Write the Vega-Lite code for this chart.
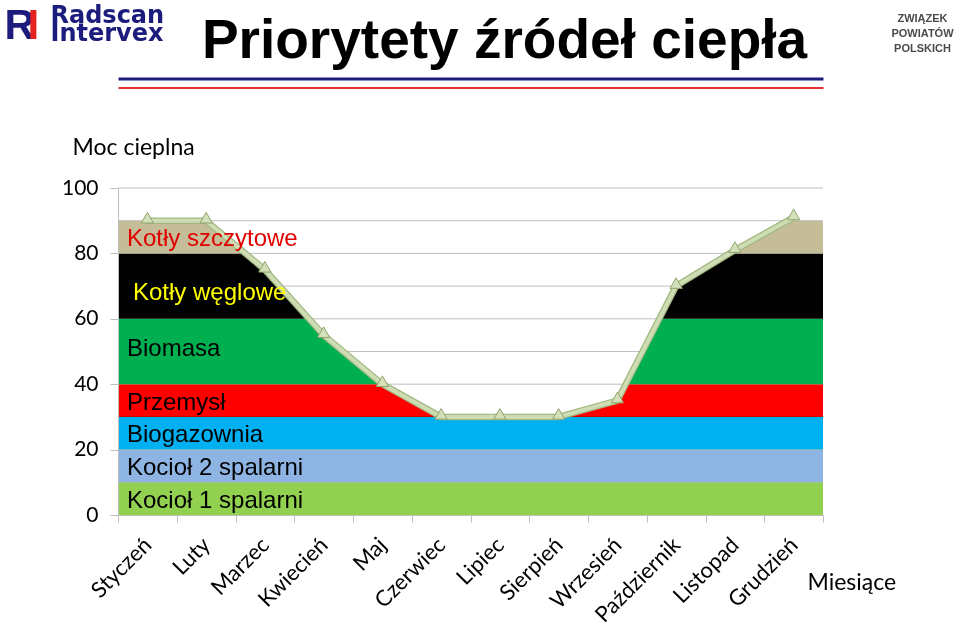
{
  "$schema": "https://vega.github.io/schema/vega-lite/v6.json",
  "autosize": "none",
  "width": 705,
  "height": 327,
  "padding": {"left": 118, "top": 188, "right": 137, "bottom": 112},
  "background": "white",
  "config": {"view": {"stroke": null}, "font": "Lato"},
  "title": {
    "text": "Priorytety źródeł ciepła",
    "font": "Liberation Sans",
    "fontSize": 55,
    "fontWeight": "bold",
    "color": "#000000",
    "anchor": "middle",
    "frame": "group",
    "dx": 34,
    "dy": 136,
    "offset": 69
  },
  "resolve": {"axis": {"x": "independent"}},
  "datasets": {
    "zrodla": [
      {"source": "Kocioł 1 spalarni", "priorytet": 1, "moc": 10},
      {"source": "Kocioł 2 spalarni", "priorytet": 2, "moc": 10},
      {"source": "Biogazownia", "priorytet": 3, "moc": 10},
      {"source": "Przemysł", "priorytet": 4, "moc": 10},
      {"source": "Biomasa", "priorytet": 5, "moc": 20},
      {"source": "Kotły węglowe", "priorytet": 6, "moc": 20},
      {"source": "Kotły szczytowe", "priorytet": 7, "moc": 10}
    ],
    "zapotrzebowanie": [
      {"miesiac": "Styczeń", "moc": 90},
      {"miesiac": "Luty", "moc": 90},
      {"miesiac": "Marzec", "moc": 75},
      {"miesiac": "Kwiecień", "moc": 55},
      {"miesiac": "Maj", "moc": 40},
      {"miesiac": "Czerwiec", "moc": 30},
      {"miesiac": "Lipiec", "moc": 30},
      {"miesiac": "Sierpień", "moc": 30},
      {"miesiac": "Wrzesień", "moc": 35},
      {"miesiac": "Październik", "moc": 70},
      {"miesiac": "Listopad", "moc": 81},
      {"miesiac": "Grudzień", "moc": 91}
    ],
    "siatka": [
      {"v": 10}, {"v": 20}, {"v": 30}, {"v": 40}, {"v": 50},
      {"v": 60}, {"v": 70}, {"v": 80}, {"v": 90}, {"v": 100}
    ]
  },
  "layer": [
    {
      "data": {"name": "zrodla"},
      "transform": [
        {"stack": "moc", "groupby": [], "sort": [{"field": "priorytet", "order": "ascending"}], "as": ["od", "do"]}
      ],
      "mark": {"type": "rect"},
      "encoding": {
        "y": {
          "field": "od",
          "type": "quantitative",
          "scale": {"domain": [0, 100], "nice": false},
          "axis": {
            "title": "Moc cieplna",
            "values": [0, 10, 20, 30, 40, 50, 60, 70, 80, 90, 100],
            "labelOverlap": false,
            "grid": false,
            "zindex": 1,
            "domainColor": "#BFBFBF",
            "tickColor": "#BFBFBF",
            "tickSize": 8,
            "labelPadding": 12,
            "labelFont": "Lato",
            "labelFontSize": 21,
            "labelColor": "#000000",
            "titleAngle": 0,
            "titleAlign": "left",
            "titleBaseline": "alphabetic",
            "titleX": -46,
            "titleY": -34,
            "titleFont": "Lato",
            "titleFontSize": 23,
            "titleFontWeight": "normal",
            "titleColor": "#000000"
          }
        },
        "y2": {"field": "do"},
        "color": {
          "field": "source",
          "type": "nominal",
          "scale": {
            "domain": ["Kocioł 1 spalarni", "Kocioł 2 spalarni", "Biogazownia", "Przemysł", "Biomasa", "Kotły węglowe", "Kotły szczytowe"],
            "range": ["#92D050", "#8DB4E2", "#00B0F0", "#FF0000", "#00B050", "#000000", "#C4BD97"]
          },
          "legend": null
        }
      }
    },
    {
      "data": {"name": "zapotrzebowanie"},
      "mark": {"type": "area", "fill": "white", "orient": "vertical"},
      "encoding": {
        "x": {
          "field": "miesiac",
          "type": "ordinal",
          "scale": {
            "type": "band",
            "paddingInner": 0,
            "paddingOuter": 0,
            "domain": ["Styczeń", "Luty", "Marzec", "Kwiecień", "Maj", "Czerwiec", "Lipiec", "Sierpień", "Wrzesień", "Październik", "Listopad", "Grudzień"]
          },
          "axis": {
            "orient": "bottom",
            "title": "Miesiące",
            "tickBand": "extent",
            "labelAngle": -45,
            "labelAlign": "right",
            "labelBaseline": "middle",
            "labelPadding": 19,
            "labelOverlap": false,
            "tickSize": 7,
            "domainColor": "#BFBFBF",
            "tickColor": "#BFBFBF",
            "labelFont": "Lato",
            "labelFontSize": 22,
            "labelColor": "#000000",
            "zindex": 1,
            "grid": false,
            "titleX": 689,
            "titleY": 74,
            "titleAlign": "left",
            "titleBaseline": "alphabetic",
            "titleFont": "Lato",
            "titleFontSize": 23,
            "titleFontWeight": "normal",
            "titleColor": "#000000"
          }
        },
        "y": {"field": "moc", "type": "quantitative"},
        "y2": {"datum": 100}
      }
    },
    {
      "data": {"name": "siatka"},
      "mark": {"type": "rule", "color": "#BFBFBF", "strokeWidth": 1, "blend": "darken"},
      "encoding": {"y": {"field": "v", "type": "quantitative"}}
    },
    {
      "data": {"name": "zapotrzebowanie"},
      "mark": {"type": "line", "color": "#A3B882", "strokeWidth": 6.5, "strokeJoin": "round"},
      "encoding": {
        "x": {
          "field": "miesiac",
          "type": "ordinal",
          "axis": {
            "orient": "top",
            "offset": 109.5,
            "labels": false,
            "ticks": false,
            "grid": false,
            "domain": true,
            "domainColor": "#1C1C7C",
            "domainWidth": 3,
            "title": ["Radscan", "Intervex"],
            "titleX": -68,
            "titleY": -56.5,
            "titleAngle": 0,
            "titleAlign": "left",
            "titleBaseline": "alphabetic",
            "titleLineHeight": 18.5,
            "titleFont": "DejaVu Sans",
            "titleFontSize": 24,
            "titleFontWeight": "bold",
            "titleColor": "#1C1C7C"
          }
        },
        "y": {"field": "moc", "type": "quantitative"}
      }
    },
    {
      "data": {"name": "zapotrzebowanie"},
      "mark": {"type": "line", "color": "#CFDDB5", "strokeWidth": 4, "strokeJoin": "round"},
      "encoding": {
        "x": {
          "field": "miesiac",
          "type": "ordinal",
          "axis": {
            "orient": "top",
            "offset": 100.5,
            "labels": false,
            "ticks": false,
            "grid": false,
            "domain": true,
            "domainColor": "#E8322F",
            "domainWidth": 2,
            "title": "R",
            "titleX": -114,
            "titleY": -49.5,
            "titleAngle": 0,
            "titleAlign": "left",
            "titleBaseline": "alphabetic",
            "titleFont": "Liberation Sans",
            "titleFontSize": 42,
            "titleFontWeight": "bold",
            "titleColor": "#1C1C7C"
          }
        },
        "y": {"field": "moc", "type": "quantitative"}
      }
    },
    {
      "data": {"name": "zapotrzebowanie"},
      "mark": {"type": "point", "shape": "triangle-up", "filled": true, "fill": "#D3E0BA", "stroke": "#90A46C", "strokeWidth": 1, "size": 150, "opacity": 1, "yOffset": -3},
      "encoding": {
        "x": {
          "field": "miesiac",
          "type": "ordinal",
          "axis": {
            "orient": "top",
            "offset": 100,
            "labels": false,
            "ticks": false,
            "grid": false,
            "domain": false,
            "title": "I",
            "titleX": -91,
            "titleY": -50,
            "titleAngle": 0,
            "titleAlign": "left",
            "titleBaseline": "alphabetic",
            "titleFont": "Liberation Sans",
            "titleFontSize": 42,
            "titleFontWeight": "bold",
            "titleColor": "#E52421"
          }
        },
        "y": {"field": "moc", "type": "quantitative"}
      }
    },
    {
      "data": {"name": "zrodla"},
      "transform": [
        {"stack": "moc", "groupby": [], "sort": [{"field": "priorytet", "order": "ascending"}], "as": ["od", "do"]},
        {"calculate": "(datum.od + datum.do) / 2", "as": "srodek"}
      ],
      "mark": {
        "type": "text",
        "align": "left",
        "baseline": "middle",
        "dx": {"expr": "datum.source === 'Kotły węglowe' ? 15 : 9"},
        "dy": {"expr": "datum.source === 'Kotły węglowe' ? 7 : (datum.source === 'Biomasa' ? -3 : 2)"},
        "font": "Liberation Sans",
        "fontSize": 24
      },
      "encoding": {
        "x": {
          "datum": "Styczeń",
          "type": "ordinal",
          "bandPosition": 0,
          "axis": {
            "orient": "top",
            "offset": 100,
            "labels": false,
            "ticks": false,
            "grid": false,
            "domain": false,
            "title": ["ZWIĄZEK", "POWIATÓW", "POLSKICH"],
            "titleX": 804,
            "titleY": -67,
            "titleAngle": 0,
            "titleAlign": "center",
            "titleBaseline": "alphabetic",
            "titleLineHeight": 15,
            "titleFont": "Liberation Sans",
            "titleFontSize": 11,
            "titleFontWeight": "bold",
            "titleColor": "#4A4A4A"
          }
        },
        "y": {"field": "srodek", "type": "quantitative"},
        "text": {"field": "source"},
        "color": {
          "condition": [
            {"test": "datum.source === 'Kotły szczytowe'", "value": "#E00000"},
            {"test": "datum.source === 'Kotły węglowe'", "value": "#FFFF00"}
          ],
          "value": "#000000"
        }
      }
    }
  ]
}
